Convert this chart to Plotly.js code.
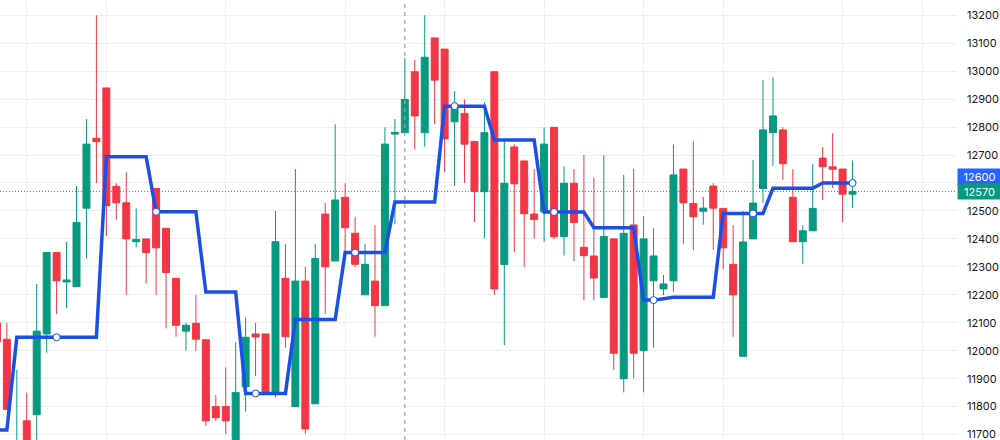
<!DOCTYPE html>
<html>
<head>
<meta charset="utf-8">
<script src="https://cdn.plot.ly/plotly-3.0.1.min.js"></script>
<style>
html, body { margin: 0; padding: 0; background: #fff; overflow: hidden; }
#chart { width: 1000px; height: 440px; }
</style>
</head>
<body>
<div id="chart"></div>
<script>
// bar numbers start one bar off the left edge
const opens = [12100, 12041, 11600, 11749, 11771, 12060, 12351, 12246, 12229, 12510,
    12760, 12940, 12588, 12529, 12390, 12400, 12580, 12438, 12259, 12070,
    12098, 12039, 11800, 11800, 11640, 11871, 12060, 12060, 11848, 12259,
    11800, 12249, 11810, 12489, 12321, 12549, 12420, 12200, 12249, 12161,
    12775, 12780, 12998, 12780, 13119, 13079, 12819, 12849, 12749, 12569,
    12998, 12308, 12729, 12679, 12489, 12497, 12799, 12408, 12599, 12370,
    12339, 12190, 12400, 11900, 12450, 12000, 12250, 12221, 12250, 12650,
    12527, 12499, 12589, 12509, 12309, 11980, 12400, 12580, 12780, 12790,
    12549, 12390, 12429, 12689, 12658, 12650, 12560];
const highs = [12100, 12100, 11931, 11850, 12239, 12351, 12351, 12390, 12589, 12829,
    13200, 12940, 12599, 12639, 12509, 12400, 12580, 12438, 12259, 12100,
    12199, 12039, 11841, 11940, 12030, 12119, 12100, 12060, 12500, 12382,
    12650, 12300, 12382, 12529, 12810, 12599, 12479, 12382, 12450, 12799,
    12829, 13047, 13040, 13200, 13119, 13079, 12929, 12899, 12749, 12889,
    12998, 12754, 12738, 12679, 12650, 12799, 12799, 12660, 12650, 12700,
    12620, 12700, 12400, 12629, 12650, 12481, 12438, 12271, 12738, 12650,
    12750, 12550, 12599, 12509, 12450, 12500, 12682, 12968, 12978, 12799,
    12650, 12450, 12668, 12729, 12779, 12650, 12680];
const lows = [12025, 11790, 11600, 11620, 11650, 11993, 12131, 12152, 12229, 12330,
    12600, 12410, 12468, 12200, 12370, 12241, 12200, 12080, 12050, 12000,
    12000, 11731, 11749, 11702, 11620, 11782, 11909, 11847, 11832, 12011,
    11800, 11702, 11810, 12131, 12321, 12349, 12300, 12200, 12050, 12161,
    12453, 12780, 12720, 12730, 12810, 12639, 12590, 12600, 12461, 12402,
    12200, 12020, 12352, 12300, 12401, 12390, 12400, 12340, 12321, 12180,
    12180, 12190, 11931, 11851, 11901, 11851, 12011, 12199, 12211, 12382,
    12360, 12451, 12360, 12291, 12050, 11980, 12400, 12529, 12661, 12611,
    12390, 12311, 12429, 12539, 12582, 12460, 12511];
const closes = [12032, 11790, 11650, 11640, 12070, 12351, 12250, 12253, 12459, 12739,
    12748, 12519, 12529, 12400, 12398, 12351, 12368, 12280, 12091, 12091,
    12041, 11749, 11760, 11749, 11850, 12048, 12049, 11847, 12390, 12050,
    12249, 11720, 12330, 12300, 12539, 12440, 12309, 12309, 12161, 12739,
    12781, 12899, 12840, 13050, 12968, 12758, 12879, 12739, 12569, 12780,
    12221, 12599, 12597, 12490, 12469, 12739, 12408, 12599, 12459, 12340,
    12260, 12409, 11991, 12420, 11991, 12400, 12339, 12239, 12629, 12529,
    12479, 12510, 12510, 12368, 12200, 12389, 12528, 12790, 12840, 12669,
    12390, 12429, 12509, 12658, 12649, 12560, 12570];
const levels = [11716, 11716, 12048, 12048, 12048, 12048, 12048, 12048, 12048, 12048,
    12048, 12694, 12694, 12694, 12694, 12694, 12497, 12497, 12497, 12497,
    12497, 12210, 12210, 12210, 12210, 11847, 11847, 11847, 11847, 11847,
    12112, 12112, 12112, 12112, 12112, 12351, 12351, 12351, 12351, 12351,
    12532, 12532, 12532, 12532, 12532, 12875, 12875, 12875, 12875, 12875,
    12754, 12754, 12754, 12754, 12754, 12496, 12496, 12496, 12496, 12496,
    12440, 12440, 12440, 12440, 12440, 12181, 12181, 12186, 12191, 12191,
    12191, 12191, 12191, 12491, 12491, 12491, 12491, 12491, 12581, 12581,
    12581, 12581, 12581, 12600, 12600, 12600, 12600];
const dotBars = [5, 15, 25, 35, 45, 55, 65, 75, 85];
const gridBars = [2, 10, 22, 34, 44, 54, 64, 72, 84, 92];
const priceTicks = [11700, 11800, 11900, 12000, 12100, 12200, 12300, 12400, 12500,
    12600, 12700, 12800, 12900, 13000, 13100, 13200];
const cursorBar = 40;
const lastPrice = 12570;
const lastLevel = 12600;

const green = "#089981";
const red = "#f23645";
const blue = "#1b4fe8";

const bars = opens.map((_, i) => i - 1);

const candles = {
    type: "candlestick",
    x: bars,
    open: opens,
    high: highs,
    low: lows,
    close: closes,
    whiskerwidth: 0,
    increasing: { line: { color: green, width: 1 }, fillcolor: green },
    decreasing: { line: { color: red, width: 1 }, fillcolor: red },
    hoverinfo: "skip",
};

const levelLine = {
    type: "scatter",
    mode: "lines",
    x: bars,
    y: levels,
    line: { color: blue, width: 3.5 },
    hoverinfo: "skip",
};

const levelDots = {
    type: "scatter",
    mode: "markers",
    x: dotBars,
    y: dotBars.map((b) => levels[bars.indexOf(b)]),
    marker: { size: 7, color: "#fff", line: { color: blue, width: 1 } },
    hoverinfo: "skip",
};

const layout = {
    width: 1000,
    height: 440,
    margin: { l: 0, r: 43, t: 0, b: 0 },
    paper_bgcolor: "#fff",
    plot_bgcolor: "#fff",
    showlegend: false,
    boxmode: "group",
    boxgap: 0.3,
    boxgroupgap: 0,
    font: { family: "Inter, sans-serif", size: 11, color: "#131722" },
    xaxis: {
        range: [-0.69, 95.5],
        rangeslider: { visible: false },
        tickmode: "array",
        tickvals: gridBars,
        showticklabels: false,
        ticks: "",
        showgrid: true,
        gridcolor: "#eff0f2",
        gridwidth: 1,
        zeroline: false,
        showline: false,
    },
    yaxis: {
        side: "right",
        range: [11680.5, 13254.7],
        tickmode: "array",
        tickvals: priceTicks,
        // the tick under the price tags has its label covered
        ticktext: priceTicks.map((t) => (t === lastLevel ? "" : String(t))),
        ticks: "",
        ticklabelstandoff: 9,
        ticklabeloverflow: "allow",
        showgrid: true,
        gridcolor: "#eeeeee",
        gridwidth: 1,
        zeroline: false,
        showline: false,
    },
    shapes: [
        {
            type: "line",
            xref: "paper",
            x0: 0,
            x1: 1,
            yref: "y",
            y0: lastPrice,
            y1: lastPrice,
            line: { color: green, width: 1, dash: "1px 2px" },
        },
        {
            type: "line",
            xref: "x",
            x0: cursorBar,
            x1: cursorBar,
            yref: "paper",
            y0: 0,
            y1: 1,
            line: { color: "#a3a3a3", width: 1.2, dash: "4px 4px" },
        },
    ],
    annotations: [
        {
            xref: "paper",
            x: 1,
            xanchor: "left",
            yref: "y",
            y: lastLevel,
            yshift: 6.5,
            text: String(lastLevel),
            showarrow: false,
            width: 43,
            height: 15,
            borderpad: 0,
            bgcolor: "#2962ff",
            font: { color: "#fff", size: 11, family: "Inter, sans-serif" },
        },
        {
            xref: "paper",
            x: 1,
            xanchor: "left",
            yref: "y",
            y: lastPrice,
            text: String(lastPrice),
            showarrow: false,
            width: 43,
            height: 15,
            borderpad: 0,
            bgcolor: green,
            font: { color: "#fff", size: 11, family: "Inter, sans-serif" },
        },
    ],
};

Plotly.newPlot("chart", [candles, levelLine, levelDots], layout, {
    staticPlot: true,
    displayModeBar: false,
});
</script>
</body>
</html>
